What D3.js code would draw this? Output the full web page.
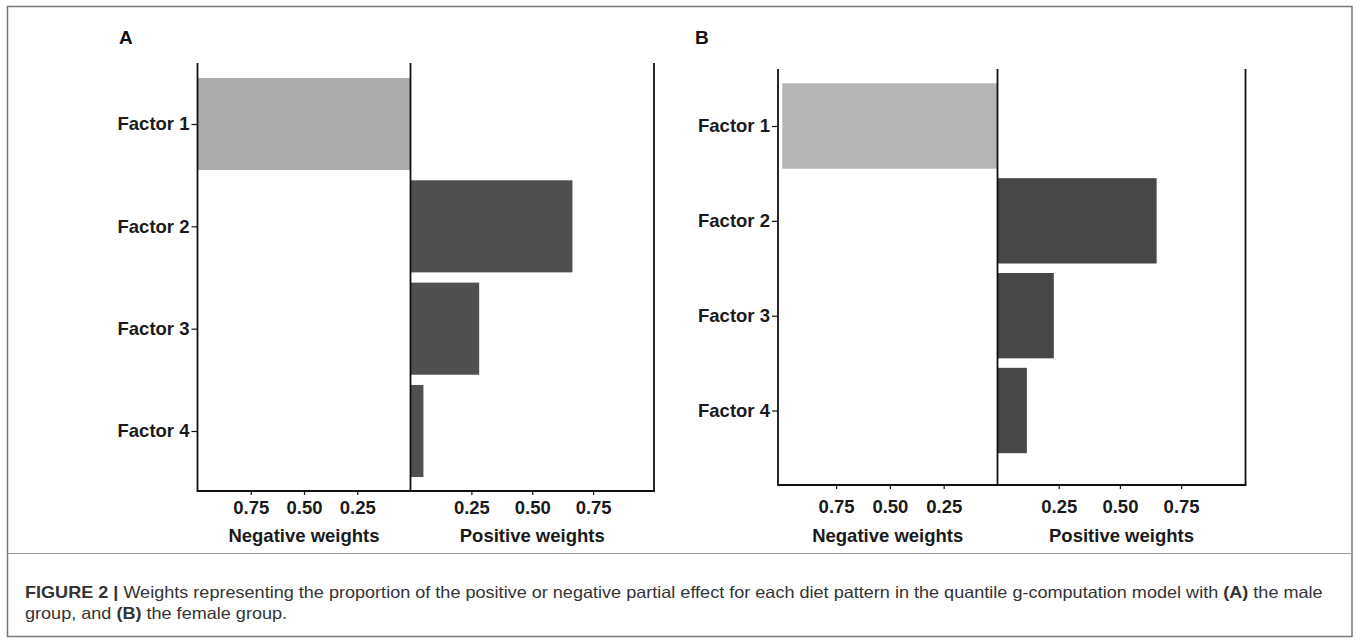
<!DOCTYPE html>
<html>
<head>
<meta charset="utf-8">
<script src="https://cdn.jsdelivr.net/npm/d3@7"></script>
<style>
  body { margin: 0; background: #fff; }
  svg text { font-family: "Liberation Sans", Arial, sans-serif; }
</style>
</head>
<body>
<script>
// donnees
const factors = ["Factor 1", "Factor 2", "Factor 3", "Factor 4"]
const negWeightsA = [1.0, 0, 0, 0]
const posWeightsA = [0, 0.665, 0.282, 0.053]
const negWeightsB = [1.0, 0, 0, 0]
const posWeightsB = [0, 0.65, 0.23, 0.12]
const tickValues = [0.25, 0.50, 0.75]
const captionBold = "FIGURE 2 |"
const captionLine1 = " Weights representing the proportion of the positive or negative partial effect for each diet pattern in the quantile g-computation model with "
const captionLine2a = "group, and "
const captionLine2b = " the female group."

const width = 1357, height = 641

let svg = d3.select("body").append("svg")
    .attr("width", width)
    .attr("height", height)

// cadre
svg.append("rect")
    .attr("x", 7.5).attr("y", 6.5)
    .attr("width", 1344.5).attr("height", 630)
    .attr("fill", "none").attr("stroke", "#777").attr("stroke-width", 1.5)
svg.append("line")
    .attr("x1", 7.5).attr("x2", 1352).attr("y1", 553.5).attr("y2", 553.5)
    .attr("stroke", "#999").attr("stroke-width", 1)

// mise en page des deux panneaux
let panels = [
    { label: "A", labelX: 119, neg: negWeightsA, pos: posWeightsA,
      x0: 197.5, xMid: 410.5, x1: 654, negMax: 1, posMax: 1,
      yTop: 63, yBot: 491, c1: 124, c4: 431,
      negCol: "#ababab", posCol: "#505050", tickY: 508, titleY: 536, fontSize: 18.5 },
    { label: "B", labelX: 695, neg: negWeightsB, pos: posWeightsB,
      x0: 778, xMid: 997.5, x1: 1245.5, negMax: 1.02, posMax: 1.013,
      yTop: 69, yBot: 485, c1: 126, c4: 410.5,
      negCol: "#b5b5b5", posCol: "#474747", tickY: 507, titleY: 536, fontSize: 18.5 }
]

function dessinerPanneau(p) {
    let g = svg.append("g")

    let y = d3.scalePoint().domain(factors).range([p.c1, p.c4])
    let barH = y.step() * 0.9
    let xNeg = d3.scaleLinear().domain([0, p.negMax]).range([p.xMid, p.x0])
    let xPos = d3.scaleLinear().domain([0, p.posMax]).range([p.xMid, p.x1])

    let rows = factors.map((f, i) => ({ f: f, neg: p.neg[i], pos: p.pos[i] }))

    // barres negatives
    g.selectAll(".neg")
        .data(rows.filter(d => d.neg > 0))
        .enter().append("rect")
        .attr("x", d => xNeg(d.neg))
        .attr("y", d => y(d.f) - barH / 2)
        .attr("width", d => xNeg(0) - xNeg(d.neg))
        .attr("height", barH)
        .attr("fill", p.negCol)

    // barres positives
    g.selectAll(".pos")
        .data(rows.filter(d => d.pos > 0))
        .enter().append("rect")
        .attr("x", xPos(0))
        .attr("y", d => y(d.f) - barH / 2)
        .attr("width", d => xPos(d.pos) - xPos(0))
        .attr("height", barH)
        .attr("fill", p.posCol)

    // lignes
    let lineCol = "#111"
    ;[p.x0, p.xMid, p.x1].forEach(x => {
        g.append("line")
            .attr("x1", x).attr("x2", x).attr("y1", p.yTop).attr("y2", p.yBot)
            .attr("stroke", lineCol).attr("stroke-width", 1.8)
    })
    g.append("line")
        .attr("x1", p.x0 - 0.9).attr("x2", p.x1 + 0.9).attr("y1", p.yBot).attr("y2", p.yBot)
        .attr("stroke", lineCol).attr("stroke-width", 1.8)

    // axe Y
    let yAxis = g.append("g")
        .attr("transform", "translate(" + p.x0 + ",0)")
        .call(d3.axisLeft(y).tickSize(6).tickPadding(2))
    yAxis.select(".domain").remove()
    yAxis.selectAll("line").attr("stroke", lineCol).attr("stroke-width", 1.2)
    yAxis.selectAll("text")
        .attr("font-size", p.fontSize).attr("font-weight", "bold")
        .attr("fill", "#1a1a1a")

    // axes X
    ;[xNeg, xPos].forEach(sc => {
        let ax = g.append("g")
            .attr("transform", "translate(0," + p.yBot + ")")
            .call(d3.axisBottom(sc).tickValues(tickValues).tickFormat(d3.format(".2f")).tickSize(4))
        ax.select(".domain").remove()
        ax.selectAll("line").attr("stroke", lineCol).attr("stroke-width", 1.2)
        ax.selectAll("text")
            .attr("y", p.tickY - p.yBot).attr("dy", "0.35em")
            .attr("font-size", p.fontSize).attr("font-weight", "bold")
            .attr("fill", "#1a1a1a")
    })

    // titres
    g.append("text")
        .attr("x", (p.x0 + p.xMid) / 2).attr("y", p.titleY).attr("dy", "0.35em")
        .attr("text-anchor", "middle")
        .attr("font-size", p.fontSize).attr("font-weight", "bold").attr("fill", "#1a1a1a")
        .text("Negative weights")
    g.append("text")
        .attr("x", (p.xMid + p.x1) / 2).attr("y", p.titleY).attr("dy", "0.35em")
        .attr("text-anchor", "middle")
        .attr("font-size", p.fontSize).attr("font-weight", "bold").attr("fill", "#1a1a1a")
        .text("Positive weights")

    g.append("text")
        .attr("x", p.labelX).attr("y", 37).attr("dy", "0.35em")
        .attr("font-size", 19).attr("font-weight", "bold").attr("fill", "#111")
        .text(p.label)
}

panels.forEach(dessinerPanneau)

// legende
let cap = svg.append("g").attr("fill", "#333")
let capFont = '"Liberation Sans Narrow", "Liberation Sans", Arial, sans-serif'
let l1 = cap.append("text")
    .attr("x", 0).attr("y", 0).attr("dy", "0.35em")
    .attr("font-size", 16.5).style("font-family", capFont)
l1.append("tspan").attr("font-weight", "bold").text(captionBold)
l1.append("tspan").text(captionLine1)
l1.append("tspan").attr("font-weight", "bold").text("(A)")
l1.append("tspan").text(" the male")

let l2 = cap.append("text")
    .attr("x", 0).attr("y", 0).attr("dy", "0.35em")
    .attr("font-size", 16.5).style("font-family", capFont)
l2.append("tspan").text(captionLine2a)
l2.append("tspan").attr("font-weight", "bold").text("(B)")
l2.append("tspan").text(captionLine2b)

// ajuster la largeur de la premiere ligne
let w1 = l1.node().getBBox().width
let sx = (1323 - 25) / w1
l1.attr("transform", "translate(25,592) scale(" + sx + ",1)")
l2.attr("transform", "translate(25,613) scale(" + sx + ",1)")
</script>
</body>
</html>
